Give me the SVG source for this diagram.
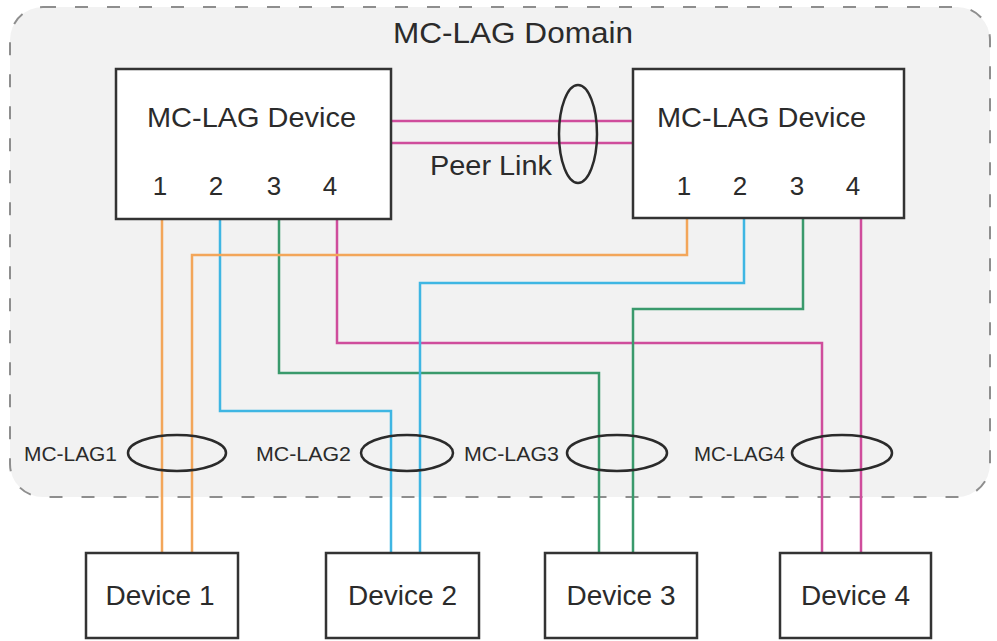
<svg xmlns="http://www.w3.org/2000/svg" width="997" height="641" viewBox="0 0 997 641">
  <style>
    text { font-family: "Liberation Sans", Arial, sans-serif; fill: #2b2b2b; }
    .box { fill: #ffffff; stroke: #333333; stroke-width: 2.5; }
    .lbl { font-size: 28px; }
    .port { font-size: 26px; text-anchor: middle; }
    .lag { font-size: 21px; }
    .ring { fill: none; stroke: #2b2b2b; stroke-width: 2.5; }
    .wire { fill: none; stroke-width: 2.5; }
    .or { stroke: #f3a65a; }
    .bl { stroke: #3fb6e3; }
    .gr { stroke: #3a9a6c; }
    .mg { stroke: #cf4d9c; }
  </style>

  <!-- MC-LAG domain area -->
  <g id="domain">
    <rect x="10" y="7" width="980" height="490" rx="33" ry="33" fill="#f2f2f2" stroke="#8e8e8e" stroke-width="2" stroke-dasharray="13 19"/>
    <text x="393" y="43" font-size="29" textLength="240" lengthAdjust="spacingAndGlyphs">MC-LAG Domain</text>
  </g>

  <!-- links -->
  <g id="connectors">
    <!-- peer link -->
    <line class="wire mg" x1="391" y1="121" x2="633" y2="121"/>
    <line class="wire mg" x1="391" y1="143" x2="633" y2="143"/>
    <!-- left device ports -->
    <polyline class="wire or" points="162,219 162,553"/>
    <polyline class="wire bl" points="220,219 220,411 391,411 391,553"/>
    <polyline class="wire gr" points="279,219 279,373 599,373 599,553"/>
    <polyline class="wire mg" points="337,219 337,343 822,343 822,553"/>
    <!-- right device ports -->
    <polyline class="wire or" points="687,218 687,255 192,255 192,553"/>
    <polyline class="wire bl" points="744,218 744,283 420,283 420,553"/>
    <polyline class="wire gr" points="803,218 803,309 633,309 633,553"/>
    <polyline class="wire mg" points="861,218 861,553"/>
  </g>

  <!-- link aggregation rings -->
  <g id="peer-link">
    <ellipse class="ring" cx="578" cy="134" rx="19" ry="49"/>
    <text x="430" y="175" font-size="27" textLength="122" lengthAdjust="spacingAndGlyphs">Peer Link</text>
  </g>
  <g id="mc-lag1">
    <ellipse class="ring" cx="177" cy="453" rx="49" ry="18"/>
    <text class="lag" x="24" y="461" textLength="93" lengthAdjust="spacingAndGlyphs">MC-LAG1</text>
  </g>
  <g id="mc-lag2">
    <ellipse class="ring" cx="407" cy="453" rx="46" ry="18"/>
    <text class="lag" x="256" y="461" textLength="95" lengthAdjust="spacingAndGlyphs">MC-LAG2</text>
  </g>
  <g id="mc-lag3">
    <ellipse class="ring" cx="617" cy="453" rx="50" ry="18"/>
    <text class="lag" x="464" y="461" textLength="95" lengthAdjust="spacingAndGlyphs">MC-LAG3</text>
  </g>
  <g id="mc-lag4">
    <ellipse class="ring" cx="842" cy="453" rx="50" ry="18"/>
    <text class="lag" x="694" y="461" textLength="91" lengthAdjust="spacingAndGlyphs">MC-LAG4</text>
  </g>

  <!-- MC-LAG peer devices -->
  <g id="mclag-device-left">
    <rect class="box" x="116" y="69" width="275" height="150"/>
    <text class="lbl" x="147" y="127" textLength="209" lengthAdjust="spacingAndGlyphs">MC-LAG Device</text>
    <text class="port" x="160" y="195">1</text>
    <text class="port" x="216" y="195">2</text>
    <text class="port" x="274" y="195">3</text>
    <text class="port" x="330" y="195">4</text>
  </g>
  <g id="mclag-device-right">
    <rect class="box" x="633" y="69" width="271" height="149"/>
    <text class="lbl" x="657" y="127" textLength="209" lengthAdjust="spacingAndGlyphs">MC-LAG Device</text>
    <text class="port" x="684" y="195">1</text>
    <text class="port" x="740" y="195">2</text>
    <text class="port" x="797" y="195">3</text>
    <text class="port" x="853" y="195">4</text>
  </g>

  <!-- access devices -->
  <g id="device1">
    <rect class="box" x="86" y="553" width="152" height="85"/>
    <text class="lbl" x="160" y="605" text-anchor="middle">Device 1</text>
  </g>
  <g id="device2">
    <rect class="box" x="326" y="553" width="153" height="85"/>
    <text class="lbl" x="402.5" y="605" text-anchor="middle">Device 2</text>
  </g>
  <g id="device3">
    <rect class="box" x="545" y="553" width="152" height="85"/>
    <text class="lbl" x="621" y="605" text-anchor="middle">Device 3</text>
  </g>
  <g id="device4">
    <rect class="box" x="780" y="553" width="151" height="85"/>
    <text class="lbl" x="855.5" y="605" text-anchor="middle">Device 4</text>
  </g>
</svg>
